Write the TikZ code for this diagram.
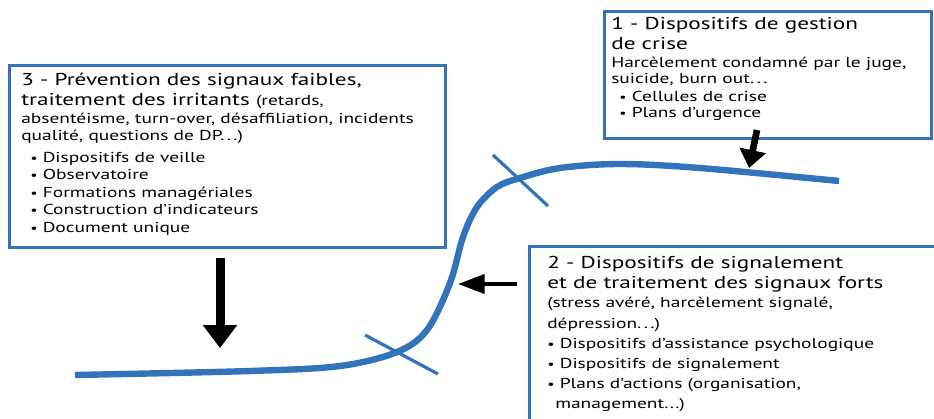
\documentclass[tikz,border=0pt]{standalone}
\usepackage{fontspec}
\setmainfont[FakeStretch=1.35]{PT Sans}
\usetikzlibrary{arrows.meta}

\definecolor{signalblue}{RGB}{50,116,187}
\newcommand\titlesize{\fontsize{12.9}{15}\selectfont}
\newcommand\bodysize{\fontsize{10.8}{12}\selectfont}
\newcommand\puce{{\small\textbullet}\ }
\newcommand\pts{.\,.\,.}

\begin{document}
\begin{tikzpicture}[x=0.75pt, y=-0.75pt,
  frame/.style={draw=signalblue, line width=2.2pt, anchor=north west, inner sep=0pt},
  title/.style={anchor=base west, inner sep=0pt, font=\titlesize},
  body/.style={anchor=base west, inner sep=0pt, font=\bodysize},
  curve/.style={draw=signalblue, line width=4.8pt},
  tick/.style={draw=signalblue, line width=2.4pt}]

  % Page and clipping (box 2 runs off the page)
  \useasboundingbox (0,0) rectangle (934,418);
  \clip (0,0) rectangle (934,418);

  % The three boxes
  \node[frame, minimum width=436*0.75pt, minimum height=182*0.75pt] (prevention) at (8,64) {};
  \node[frame, minimum width=327*0.75pt, minimum height=127*0.75pt] (crise) at (603,10) {};
  \node[frame, minimum width=440*0.75pt, minimum height=200*0.75pt] (signalement) at (528,245) {};

  % Box 3 text
  \node[title] (prev-l1) at (21,85) {3 - Prévention des signaux faibles,};
  \node[title] (prev-l2) at (21,105) {traitement des irritants {\bodysize(retards,}};
  \node[body] (prev-l3) at (21,123) {absentéisme, turn-over, désaffiliation, incidents};
  \node[body] (prev-l4) at (21,140) {qualité, questions de DP\pts)};
  \foreach \entry [count=\i] in {Dispositifs de veille, Observatoire, Formations managériales,
      Construction d’indicateurs, Document unique}
    \node[body] (prev-b\i) at (30,144.5+17.5*\i) {\puce\entry};

  % Box 1 text
  \node[title] (crise-l1) at (611,29) {1 - Dispositifs de gestion};
  \node[title] (crise-l2) at (611,49) {de crise};
  \node[body] (crise-l3) at (611,67) {Harcèlement condamné par le juge,};
  \node[body] (crise-l4) at (611,83) {suicide, burn out\pts};
  \foreach \entry [count=\i] in {Cellules de crise, Plans d’urgence}
    \node[body] (crise-b\i) at (619,85+16*\i) {\puce\entry};

  % Box 2 text
  \node[title] (sign-l1) at (547,268) {2 - Dispositifs de signalement};
  \node[title] (sign-l2) at (547,288) {et de traitement des signaux forts};
  \node[body] (sign-l3) at (547,307) {(stress avéré, harcèlement signalé,};
  \node[body] (sign-l4) at (547,328) {dépression\pts)};
  \foreach \entry [count=\i] in {Dispositifs d’assistance psychologique, Dispositifs de signalement,
      {Plans d’actions (organisation,}}
    \node[body] (sign-b\i) at (547,328+20*\i) {\puce\entry};
  \node[body] (sign-b4) at (555,408) {management...)};

  % The curve
  \draw[curve] plot[smooth, tension=0.55] coordinates {(75,375) (250,371) (340,366) (397,352)
    (427,330) (450,283) (463,237) (477,207) (497,187) (520,178) (560,168) (620,164) (700,168)
    (839,181)};

  % Crossing marks
  \draw[tick] (365,335) -- (438,374);
  \draw[tick] (493,155) -- (548,206);

  % Arrows
  \coordinate (prev-from) at (220,258);
  \coordinate (prev-to) at (220,348);
  \coordinate (sign-from) at (517,284);
  \coordinate (sign-to) at (458,284);
  \coordinate (crise-from) at (757,130);
  \coordinate (crise-to) at (749,168);
  \draw[line width=6.75pt, -{Triangle[width=24.75pt, length=17.25pt]}] (prev-from) -- (prev-to);
  \draw[line width=3pt, -{Triangle[width=14.25pt, length=20pt]}] (sign-from) -- (sign-to);
  \draw[line width=5pt, -{Triangle[width=19.5pt, length=13.5pt]}] (crise-from) -- (crise-to);

\end{tikzpicture}
\end{document}
